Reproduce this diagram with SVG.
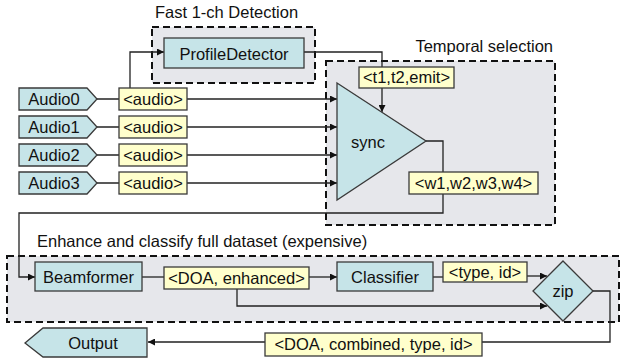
<svg xmlns="http://www.w3.org/2000/svg" width="621" height="360" viewBox="0 0 621 360">
<style>
text{font-family:"Liberation Sans",Arial,sans-serif;font-size:16.5px;fill:#111;}
.c{text-anchor:middle;}
.grp{fill:#e6e7eb;stroke:#111;stroke-width:2;stroke-dasharray:7,4;}
.node{fill:#c6e4e8;stroke:#3a3a3a;stroke-width:1.3;}
.lbl{fill:#ffffcc;stroke:#3a3a3a;stroke-width:1.3;}
.edge{fill:none;stroke:#222;stroke-width:1.3;}
.arr{marker-end:url(#ah);}
</style>
<defs>
<marker id="ah" viewBox="0 0 10 10" refX="10" refY="5" markerWidth="8" markerHeight="7" markerUnits="userSpaceOnUse" orient="auto">
<path d="M0,0 L10,5 L0,10 z" fill="#111"/>
</marker>
</defs>
<g id="groups">
<g id="group-fast"><rect class="grp" x="152" y="27" width="163" height="56"/><text x="155" y="18">Fast 1-ch Detection</text></g>
<g id="group-temporal"><rect class="grp" x="326" y="61" width="229" height="164"/><text x="553" y="52" text-anchor="end">Temporal selection</text></g>
<g id="group-enhance"><rect class="grp" x="7" y="256" width="612" height="66"/><text x="37" y="247">Enhance and classify full dataset (expensive)</text></g>
</g>
<g id="connectors">
<polyline class="edge arr" points="130,88 130,52 164,52"/>
<polyline class="edge arr" points="97,99 337,99"/>
<polyline class="edge arr" points="97,127 337,127"/>
<polyline class="edge arr" points="97,155 337,155"/>
<polyline class="edge arr" points="97,183 337,183"/>
<polyline class="edge arr" points="304,52 382,52 382,112"/>
<polyline class="edge arr" points="426,141 443,141 443,213 19,213 19,277 35,277"/>
<polyline class="edge" points="142,277 164,277"/>
<polyline class="edge arr" points="309,277 337,277"/>
<polyline class="edge arr" points="237,289 237,306 547,306"/>
<polyline class="edge" points="433,277 443,277"/>
<polyline class="edge arr" points="527,276 547,276"/>
<polyline class="edge arr" points="593,291 610,291 610,342 148,342"/>
<g id="edge-labels">
<rect class="lbl" x="119" y="88" width="68" height="22"/><text class="c" x="153" y="105">&lt;audio&gt;</text>
<rect class="lbl" x="119" y="116" width="68" height="22"/><text class="c" x="153" y="133">&lt;audio&gt;</text>
<rect class="lbl" x="119" y="144" width="68" height="22"/><text class="c" x="153" y="161">&lt;audio&gt;</text>
<rect class="lbl" x="119" y="172" width="68" height="22"/><text class="c" x="153" y="189">&lt;audio&gt;</text>
<rect class="lbl" x="359" y="67" width="95" height="21"/><text class="c" x="406.5" y="83">&lt;t1,t2,emit&gt;</text>
<rect class="lbl" x="409" y="172" width="129" height="22"/><text class="c" x="473.5" y="189">&lt;w1,w2,w3,w4&gt;</text>
<rect class="lbl" x="164" y="267" width="145" height="22"/><text class="c" x="236.5" y="284">&lt;DOA, enhanced&gt;</text>
<rect class="lbl" x="443" y="262" width="84" height="20"/><text class="c" x="485" y="278">&lt;type, id&gt;</text>
<rect class="lbl" x="265" y="333" width="217" height="23"/><text class="c" x="373.5" y="350">&lt;DOA, combined, type, id&gt;</text>
</g>
</g>
<g id="ProfileDetector"><rect class="node" x="164" y="38" width="140" height="30"/><text class="c" x="234" y="60">ProfileDetector</text></g>
<g id="Audio0"><polygon class="node" points="19,88 87,88 97,99 87,110 19,110"/><text class="c" x="54" y="105">Audio0</text></g>
<g id="Audio1"><polygon class="node" points="19,116 87,116 97,127 87,138 19,138"/><text class="c" x="54" y="133">Audio1</text></g>
<g id="Audio2"><polygon class="node" points="19,144 87,144 97,155 87,166 19,166"/><text class="c" x="54" y="161">Audio2</text></g>
<g id="Audio3"><polygon class="node" points="19,172 87,172 97,183 87,194 19,194"/><text class="c" x="54" y="189">Audio3</text></g>
<g id="sync"><polygon class="node" points="337,83 426,141 337,200"/><text class="c" x="368" y="148">sync</text></g>
<g id="Beamformer"><rect class="node" x="35" y="262" width="107" height="29"/><text class="c" x="88.5" y="283">Beamformer</text></g>
<g id="Classifier"><rect class="node" x="337" y="262" width="96" height="29"/><text class="c" x="385" y="283">Classifier</text></g>
<g id="zip"><polygon class="node" points="563,261 593,291 563,321 533,291"/><text class="c" x="563" y="297">zip</text></g>
<g id="Output"><polygon class="node" points="25,343 43,328 147,328 147,357 43,357"/><text class="c" x="93" y="349">Output</text></g>
</svg>
